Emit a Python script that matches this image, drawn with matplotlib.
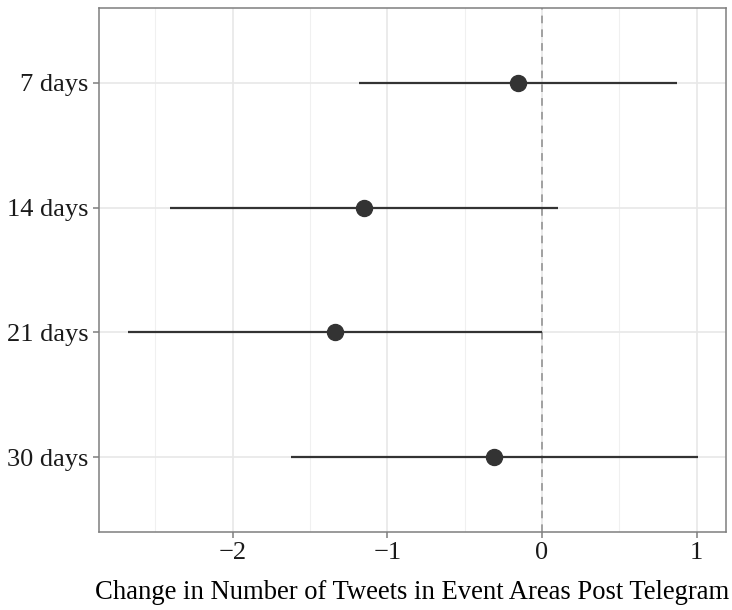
import matplotlib
matplotlib.use("Agg")
import matplotlib.pyplot as plt

# estimates with confidence intervals
labels = ["30 days", "21 days", "14 days", "7 days"]
estimate = [-0.31, -1.338, -1.153, -0.156]
ci_low = [-1.623, -2.675, -2.406, -1.18]
ci_high = [1.01, 0.0, 0.103, 0.873]

plt.rcParams["font.family"] = ["Liberation Serif", "DejaVu Serif"]

fig = plt.figure(figsize=(7.32, 6.10), dpi=100)
ax = fig.add_axes([0.135, 0.128, 0.857, 0.859])

ypos = list(range(1, len(labels) + 1))

# grid like theme_bw
for v in [-2.5, -1.5, -0.5, 0.5]:
    ax.axvline(v, color="#f0f0f0", lw=0.8, zorder=0)
for v in [-2, -1, 0, 1]:
    ax.axvline(v, color="#e8e8e8", lw=1.2, zorder=0)
for y in ypos:
    ax.axhline(y, color="#e8e8e8", lw=1.2, zorder=0)

ax.axvline(0, color="#8c8c8c", lw=1.1, ls=(0, (5, 4)), zorder=1)

ax.hlines(ypos, ci_low, ci_high, color="#333333", lw=1.6, zorder=2)
ax.plot(estimate, ypos, "o", color="#333333", ms=11.5, zorder=3)

ax.set_xlim(-2.865, 1.19)
ax.set_ylim(0.4, 4.6)
ax.set_xticks([-2, -1, 0, 1])
ax.set_xticklabels(["\u22122", "\u22121", "0", "1"])
ax.set_yticks(ypos)
ax.set_yticklabels(labels)

ax.tick_params(axis="both", labelsize=19, colors="#7f7f7f", labelcolor="#1a1a1a",
               length=4, width=1.1)
for s in ax.spines.values():
    s.set_color("#7f7f7f")
    s.set_linewidth(1.1)

ax.set_xlabel("Change in Number of Tweets in Event Areas Post Telegram", fontsize=19.2, labelpad=11)

fig.savefig("out.png", dpi=100)
